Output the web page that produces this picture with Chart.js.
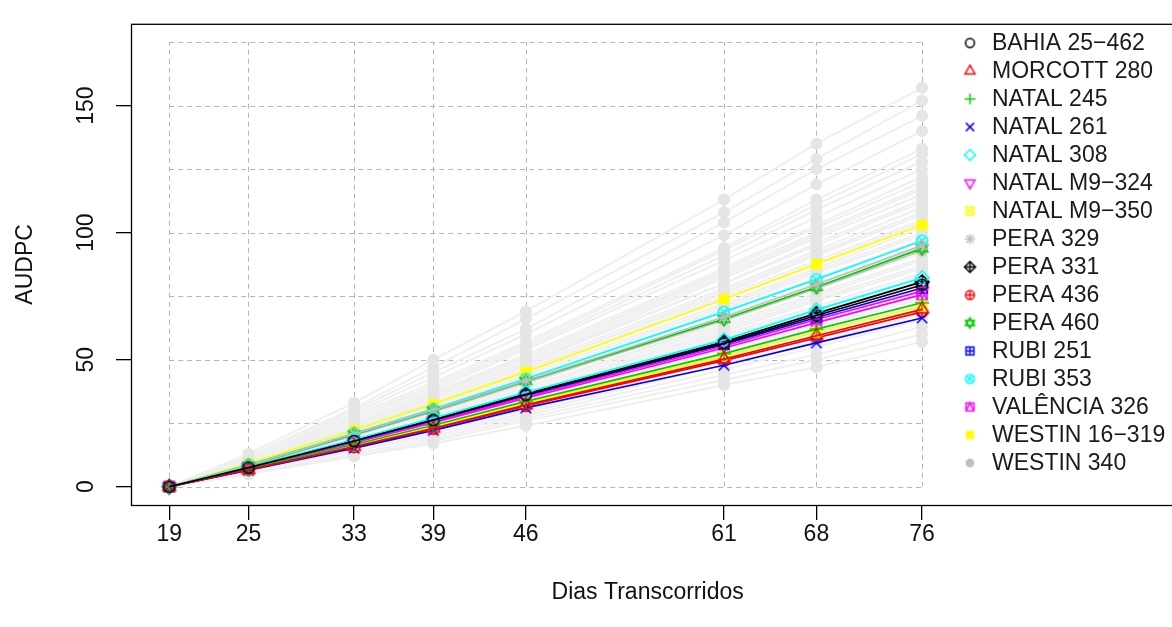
<!DOCTYPE html>
<html>
<head>
<meta charset="utf-8">
<script src="https://cdn.jsdelivr.net/npm/chart.js@4.4.0/dist/chart.umd.min.js"></script>
<style>
  html, body { margin: 0; padding: 0; background: #fff; overflow: hidden; }
</style>
</head>
<body>
<canvas id="audpc" width="1172" height="627"></canvas>
<script>
// Dias de avaliação e marcas dos eixos
const dias = [19, 25, 33, 39, 46, 61, 68, 76];
const marcasY = [0, 50, 100, 150];
const linhasGrade = [0, 25, 50, 75, 100, 125, 150, 175];

const nomes = [
    'BAHIA 25−462', 'MORCOTT 280', 'NATAL 245', 'NATAL 261',
    'NATAL 308', 'NATAL M9−324', 'NATAL M9−350', 'PERA 329',
    'PERA 331', 'PERA 436', 'PERA 460', 'RUBI 251',
    'RUBI 353', 'VALÊNCIA 326', 'WESTIN 16−319', 'WESTIN 340'
];

// AUDPC acumulada dos acessos em destaque
const bahia25462  = [0, 7.5, 18.0, 26.2, 36.2, 56.4, 67.4, 79.4];
const morcott280  = [0, 6.7, 15.8, 23.0, 32.2, 50.2, 59.4, 69.8];
const natal245    = [0, 7.0, 16.6, 24.2, 33.6, 52.4, 62.0, 72.4];
const natal261    = [0, 6.5, 15.2, 22.2, 31.0, 47.8, 56.6, 66.4];
const natal308    = [0, 7.8, 18.6, 27.0, 37.2, 57.8, 69.6, 82.2];
const natalM9324  = [0, 7.3, 17.6, 25.6, 35.4, 55.4, 65.8, 77.0];
const natalM9350  = [0, 6.8, 16.2, 23.6, 33.0, 51.4, 60.8, 71.0];
const pera329     = [0, 8.4, 20.8, 30.2, 41.8, 66.8, 79.6, 95.0];
const pera331     = [0, 7.6, 18.2, 26.5, 36.6, 57.0, 68.2, 80.6];
const pera436     = [0, 6.6, 15.6, 22.8, 31.8, 49.6, 58.6, 68.8];
const pera460     = [0, 8.3, 20.6, 30.0, 41.6, 66.0, 78.6, 93.8];
const rubi251     = [0, 7.4, 17.8, 25.9, 35.8, 56.0, 66.6, 78.2];
const rubi353     = [0, 8.6, 21.0, 30.6, 42.5, 68.8, 81.6, 96.8];
const valencia326 = [0, 7.2, 17.3, 25.2, 34.8, 54.6, 64.6, 75.6];
const westin16319 = [0, 9.2, 22.3, 32.6, 45.2, 73.8, 87.6, 103.0];
const westin340   = [0, 8.2, 20.2, 29.5, 41.0, 65.5, 78.0, 93.0];

const series = [bahia25462, morcott280, natal245, natal261, natal308, natalM9324,
    natalM9350, pera329, pera331, pera436, pera460, rubi251, rubi353,
    valencia326, westin16319, westin340];

// Demais acessos (fundo cinza)
const demaisAcessos = [
    [0, 13, 33, 50, 69, 113, 135, 157],
    [0, 12, 31, 47, 66, 108, 129, 152],
    [0, 12, 30, 45, 62, 104, 125, 146],
    [0, 11, 29, 43, 60, 99, 119, 140],
    [0, 11, 28, 41, 57, 94, 113, 133],
    [0, 11, 27, 40, 56, 93, 111, 131],
    [0, 10, 27, 39, 55, 91, 109, 128],
    [0, 10, 26, 38, 54, 89, 106, 125],
    [0, 10, 25, 37, 52, 86, 103, 122],
    [0, 10, 25, 37, 51, 85, 102, 120],
    [0, 10, 25, 36, 51, 84, 100, 118],
    [0, 9, 24, 36, 50, 83, 99, 117],
    [0, 9, 24, 35, 49, 82, 98, 115],
    [0, 9, 24, 35, 49, 80, 96, 113],
    [0, 9, 23, 34, 48, 80, 95, 112],
    [0, 9, 23, 34, 47, 78, 93, 110],
    [0, 9, 23, 33, 46, 77, 92, 108],
    [0, 9, 22, 33, 46, 76, 91, 107],
    [0, 9, 22, 32, 45, 75, 89, 105],
    [0, 9, 22, 32, 45, 74, 88, 104],
    [0, 8, 21, 31, 44, 72, 86, 102],
    [0, 8, 21, 31, 43, 71, 85, 100],
    [0, 8, 21, 30, 42, 70, 84, 99],
    [0, 8, 20, 30, 42, 69, 82, 97],
    [0, 8, 20, 29, 41, 67, 80, 95],
    [0, 8, 20, 29, 40, 67, 80, 94],
    [0, 8, 19, 28, 39, 65, 78, 92],
    [0, 8, 19, 28, 39, 64, 76, 90],
    [0, 7, 19, 27, 38, 63, 75, 89],
    [0, 7, 18, 27, 37, 62, 74, 87],
    [0, 7, 18, 26, 37, 61, 73, 86],
    [0, 7, 18, 26, 36, 60, 71, 84],
    [0, 7, 17, 26, 35, 59, 70, 83],
    [0, 7, 17, 25, 35, 58, 69, 81],
    [0, 7, 17, 25, 34, 57, 68, 80],
    [0, 7, 16, 24, 33, 55, 66, 78],
    [0, 6, 16, 23, 33, 54, 64, 76],
    [0, 6, 15, 23, 32, 53, 63, 74],
    [0, 6, 15, 22, 31, 51, 61, 72],
    [0, 6, 15, 22, 30, 50, 59, 70],
    [0, 6, 14, 21, 29, 48, 57, 68],
    [0, 6, 14, 20, 28, 46, 55, 66],
    [0, 5, 13, 19, 27, 44, 52, 63],
    [0, 5, 12, 18, 26, 42, 50, 60],
    [0, 5, 12, 17, 24, 40, 47, 57]
];

// paleta padrão do R (1..8) reciclada e símbolos pch 1..16
const paleta = ['#000000', '#FF0000', '#00CD00', '#0000FF', '#00FFFF', '#FF00FF', '#FFFF00', '#BEBEBE'];
const FONTE = '"Liberation Sans", Arial, sans-serif';

// desenha um símbolo pch do R num canvas pequeno
function simbolo(pch, cor, s) {
    const n = Math.ceil(s) + 4;
    const c = document.createElement('canvas');
    c.width = n; c.height = n;
    const g = c.getContext('2d');
    const m = n / 2, r = s / 2;
    g.strokeStyle = cor; g.fillStyle = cor; g.lineWidth = 1.5;
    const linha = (x1, y1, x2, y2) => { g.beginPath(); g.moveTo(m + x1, m + y1); g.lineTo(m + x2, m + y2); g.stroke(); };
    const circulo = k => { g.beginPath(); g.arc(m, m, r * k, 0, Math.PI * 2); g.stroke(); };
    const quadrado = k => g.strokeRect(m - r * k, m - r * k, 2 * r * k, 2 * r * k);
    const mais = k => { linha(-r * k, 0, r * k, 0); linha(0, -r * k, 0, r * k); };
    const xis = k => { linha(-r * k, -r * k, r * k, r * k); linha(-r * k, r * k, r * k, -r * k); };
    const losango = k => { g.beginPath(); g.moveTo(m, m - r * k); g.lineTo(m + r * k, m); g.lineTo(m, m + r * k); g.lineTo(m - r * k, m); g.closePath(); g.stroke(); };
    const triangulo = (k, d) => {
        g.beginPath();
        g.moveTo(m, m - d * r * k);
        g.lineTo(m + 0.866 * r * k, m + d * 0.5 * r * k);
        g.lineTo(m - 0.866 * r * k, m + d * 0.5 * r * k);
        g.closePath(); g.stroke();
    };
    switch (pch) {
        case 1: circulo(0.8); break;
        case 2: triangulo(1.05, 1); break;
        case 3: mais(1); break;
        case 4: xis(0.75); break;
        case 5: losango(1); break;
        case 6: triangulo(1.05, -1); break;
        case 7: quadrado(0.72); xis(0.72); break;
        case 8: mais(0.95); xis(0.68); break;
        case 9: losango(1); mais(1); break;
        case 10: circulo(0.8); mais(0.8); break;
        case 11: triangulo(0.95, 1); triangulo(0.95, -1); break;
        case 12: quadrado(0.72); mais(0.72); break;
        case 13: circulo(0.8); xis(0.566); break;
        case 14:
            quadrado(0.72);
            g.beginPath(); g.moveTo(m - r * 0.72, m + r * 0.72); g.lineTo(m, m - r * 0.72); g.lineTo(m + r * 0.72, m + r * 0.72); g.stroke();
            break;
        case 15: g.fillRect(m - r * 0.75, m - r * 0.75, 1.5 * r, 1.5 * r); break;
        case 16: g.beginPath(); g.arc(m, m, r * 0.8, 0, Math.PI * 2); g.fill(); break;
    }
    return c;
}

const corDe = i => paleta[i % 8];
const simbolosGrafico = nomes.map((_, i) => simbolo(i + 1, corDe(i), 14));
const simbolosLegenda = nomes.map((_, i) => simbolo(i + 1, corDe(i), 11));

const pontos = vals => vals.map((v, k) => ({ x: dias[k], y: v }));

const conjuntos = [];
series.forEach((vals, i) => {
    conjuntos.push({
        label: nomes[i],
        data: pontos(vals),
        borderColor: corDe(i),
        borderWidth: 1.7,
        pointStyle: simbolosGrafico[i],
        pointRadius: 6,
        tension: 0,
        order: 0
    });
});
demaisAcessos.forEach(vals => {
    conjuntos.push({
        label: '',
        data: pontos(vals),
        borderColor: '#efefef',
        borderWidth: 2,
        pointStyle: 'circle',
        pointRadius: 5,
        pointBackgroundColor: '#e5e5e5',
        pointBorderColor: '#e5e5e5',
        tension: 0,
        order: 1
    });
});

// grade tracejada entre o primeiro e o último dia, de 0 a 175
const gradeTracejada = {
    id: 'gradeTracejada',
    beforeDatasetsDraw(chart) {
        const { ctx, scales: { x, y } } = chart;
        const x0 = x.getPixelForValue(dias[0]), x1 = x.getPixelForValue(dias[dias.length - 1]);
        const y0 = y.getPixelForValue(linhasGrade[0]), y1 = y.getPixelForValue(linhasGrade[linhasGrade.length - 1]);
        ctx.save();
        ctx.strokeStyle = '#b4b4b4';
        ctx.lineWidth = 1;
        ctx.setLineDash([5, 4]);
        dias.forEach(d => {
            const px = Math.round(x.getPixelForValue(d)) + 0.5;
            ctx.beginPath(); ctx.moveTo(px, y0); ctx.lineTo(px, y1); ctx.stroke();
        });
        linhasGrade.forEach(v => {
            const py = Math.round(y.getPixelForValue(v)) + 0.5;
            ctx.beginPath(); ctx.moveTo(x0, py); ctx.lineTo(x1, py); ctx.stroke();
        });
        ctx.restore();
    }
};

// moldura da área do gráfico e legenda interna
const molduraLegenda = {
    id: 'molduraLegenda',
    afterDraw(chart) {
        const { ctx, chartArea: a } = chart;
        ctx.save();
        ctx.strokeStyle = '#000';
        ctx.lineWidth = 1.3;
        ctx.strokeRect(a.left + 0.5, a.top + 0.5, a.right - a.left + 20, a.bottom - a.top);

        ctx.font = '23px ' + FONTE;
        ctx.textBaseline = 'middle';
        ctx.textAlign = 'left';
        ctx.fillStyle = '#1a1a1a';
        nomes.forEach((nome, i) => {
            const cy = 43 + i * 28;
            const img = simbolosLegenda[i];
            ctx.drawImage(img, 970 - img.width / 2, cy - img.height / 2);
            ctx.fillText(nome, 992, cy + 1);
        });
        ctx.restore();
    }
};

new Chart(document.getElementById('audpc'), {
    type: 'line',
    data: { datasets: conjuntos },
    options: {
        responsive: false,
        animation: false,
        devicePixelRatio: 1,
        events: [],
        layout: { padding: { top: 15, right: 0, bottom: 0, left: 0 } },
        plugins: { legend: { display: false }, tooltip: { enabled: false } },
        scales: {
            x: {
                type: 'linear',
                min: 16.107,
                max: 94.34,
                afterBuildTicks: s => { s.ticks = dias.map(v => ({ value: v })); },
                afterFit: s => { s.height = 122; },
                border: { display: false },
                grid: { drawOnChartArea: false, drawTicks: true, tickLength: 15, color: '#000', lineWidth: 1.3 },
                ticks: { autoSkip: false, maxRotation: 0, padding: 1, color: '#111', font: { size: 23, family: FONTE } },
                title: { display: true, text: 'Dias Transcorridos', color: '#111', font: { size: 23, family: FONTE }, padding: { top: 0, bottom: 21 } }
            },
            y: {
                type: 'linear',
                min: -7.2,
                max: 182.2,
                afterBuildTicks: s => { s.ticks = marcasY.map(v => ({ value: v })); },
                afterFit: s => { s.width = 131; },
                border: { display: false },
                grid: { drawOnChartArea: false, drawTicks: true, tickLength: 15, color: '#000', lineWidth: 1.3 },
                ticks: { autoSkip: false, minRotation: 90, maxRotation: 90, crossAlign: 'center', padding: 10, color: '#111', font: { size: 23, family: FONTE } },
                title: { display: true, text: 'AUDPC', color: '#111', font: { size: 23, family: FONTE }, padding: { top: 12, bottom: 0 } }
            }
        }
    },
    plugins: [gradeTracejada, molduraLegenda]
});
</script>
</body>
</html>
